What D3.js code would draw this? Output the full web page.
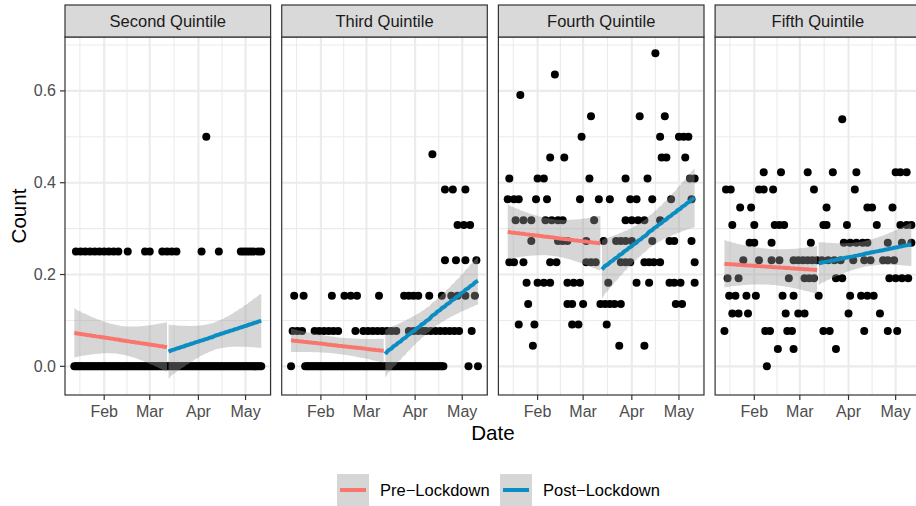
<!DOCTYPE html>
<html><head><meta charset="utf-8">
<script src="https://cdn.jsdelivr.net/npm/d3@7/dist/d3.min.js"></script>
<style>
body{margin:0;background:#fff}
svg{display:block;font-family:"Liberation Sans",Arial,Helvetica,sans-serif}
</style>
</head><body>
<svg id="chart" width="916" height="506"></svg>
<script>
// ---------------- data ----------------
const panelNames = ["Second Quintile", "Third Quintile", "Fourth Quintile", "Fifth Quintile"];
const periodNames = ["Pre\u2212Lockdown", "Post\u2212Lockdown"];
const periodColors = ["#F8766D", "#0A8DC3"];
const firstDate = "2020-01-13";          // day offset 0
const preDays = [0, 59];                  // day offsets of the pre-lockdown period
const postDays = [60, 119];               // day offsets of the post-lockdown period
const xTickDates = ["2020-02-01", "2020-03-01", "2020-04-01", "2020-05-01"];
const xTickLabels = ["Feb", "Mar", "Apr", "May"];
const yTicks = [0, 0.2, 0.4, 0.6];
const yTickLabels = ["0.0", "0.2", "0.4", "0.6"];

// each entry: [count value, day offsets with that value]
const secondQuintile = [
  [0.5, [84]],
  [0.25, [1,4,7,10,13,16,19,22,25,28,34,45,48,56,59,62,65,81,92,106,108,110,112,114,117,119]],
  [0, [0,1,2,3,4,5,6,7,8,9,10,11,12,13,14,15,16,17,18,19,20,21,22,23,24,25,26,27,28,29,30,31,32,33,34,35,36,37,38,39,40,41,42,43,44,45,46,47,48,49,50,51,52,53,54,55,56,57,58,59,60,61,62,63,64,65,66,67,68,69,70,71,72,73,74,75,76,77,78,79,80,81,82,83,84,85,86,87,88,89,90,91,92,93,94,95,96,97,98,99,100,101,102,103,104,105,106,107,108,109,110,111,112,113,114,115,116,117,118,119]]
];
const thirdQuintile = [
  [0.462, [90]],
  [0.385, [98,103,111]],
  [0.308, [106,110,114]],
  [0.231, [98,105,111,118]],
  [0.154, [2,8,26,34,38,42,56,72,75,78,81,88,96,102,106,111,117]],
  [0.077, [1,4,7,15,18,21,24,27,30,41,46,49,52,55,58,61,64,67,75,78,81,84,86,89,92,95,98,101,104,107,115]],
  [0, [0,9,10,11,12,13,14,15,16,17,18,19,20,21,22,23,24,25,26,27,28,29,30,31,32,33,34,35,36,37,38,39,40,41,42,43,44,45,46,47,48,49,50,51,52,53,54,55,56,57,58,59,60,61,62,63,64,65,66,67,68,69,70,71,72,73,74,75,76,77,78,79,80,81,82,83,84,85,86,87,88,89,90,91,92,93,94,95,96,97,113,119]]
];
const fourthQuintile = [
  [0.682, [94]],
  [0.636, [30]],
  [0.591, [8]],
  [0.545, [53,84,100]],
  [0.5, [47,97,109,112,115]],
  [0.455, [27,36,98,101,113]],
  [0.409, [1,19,23,52,75,89,116,119]],
  [0.364, [0,4,7,18,25,46,58,65,78,82,92,104,117]],
  [0.318, [5,10,15,24,28,32,35,55,75,79,83,87,97]],
  [0.273, [15,32,35,38,50,61,69,72,75,79,92,103,106,117]],
  [0.227, [1,4,10,27,31,50,53,56,72,75,78,87,90,93,97,119]],
  [0.182, [12,19,23,27,38,42,46,64,82,90,103,106,110,119]],
  [0.136, [13,38,41,48,59,62,65,68,72,107,111]],
  [0.091, [7,17,41,45,63]],
  [0.045, [16,71,87]]
];
const fifthQuintile = [
  [0.538, [75]],
  [0.423, [25,36,53,69,84,109,112,116]],
  [0.385, [1,4,22,25,31,57,83]],
  [0.346, [10,17,65,91,94,107]],
  [0.308, [5,19,32,35,38,63,65,78,97,112,116,119]],
  [0.269, [16,19,30,55,76,80,84,88,91,104,113,119]],
  [0.231, [12,22,30,35,44,47,50,53,56,59,62,66,70,74,82,89,93,101,104,108]],
  [0.192, [2,9,41,51,54,57,71,75,105,109,113,117]],
  [0.154, [3,7,14,20,37,44,60,80,87,91,95]],
  [0.115, [5,9,15,39,47,51,79,99]],
  [0.077, [0,26,29,40,43,63,67,89,104,110]],
  [0.038, [34,44,71]],
  [0, [27]]
];
const panelData = [secondQuintile, thirdQuintile, fourthQuintile, fifthQuintile];

// linear fits (geom_smooth, method = "lm"), one entry per panel
const preFitStart  = [0.073, 0.057, 0.293, 0.2235];
const preFitEnd    = [0.042, 0.034, 0.268, 0.210];
const preCiEnd     = [0.054, 0.026, 0.060, 0.052];   // CI half-width at the ends
const preCiMid     = [0.031, 0.018, 0.040, 0.039];   // CI half-width at the middle
const postFitStart = [0.032, 0.027, 0.211, 0.224];
const postFitEnd   = [0.099, 0.1865, 0.367, 0.2655];
const postCiEnd    = [0.059, 0.052, 0.064, 0.047];
const postCiMid    = [0.030, 0.028, 0.035, 0.028];

// ---------------- layout ----------------
const svg = d3.select("#chart");
const plotTop = 37, plotBottom = 395, stripTop = 5;
const panelLeft = 65, panelStep = 216.7, panelW = 205.6;
const fontTick = 16, fontStrip = 16.5, fontTitle = 20.6;

const parse = d3.utcParse("%Y-%m-%d");
const day0 = parse(firstDate);
const toDate = d => d3.utcDay.offset(day0, d);

// segments (pre/post) with ribbon polygons
function makeSegment(pi, period) {
  const days = period === 0 ? preDays : postDays;
  const s = period === 0 ? preFitStart[pi] : postFitStart[pi];
  const e = period === 0 ? preFitEnd[pi] : postFitEnd[pi];
  const he = period === 0 ? preCiEnd[pi] : postCiEnd[pi];
  const hm = period === 0 ? preCiMid[pi] : postCiMid[pi];
  const mid = (days[0] + days[1]) / 2, half = (days[1] - days[0]) / 2;
  const pts = d3.range(0, 41).map(i => {
    const t = -1 + i / 20;
    const fit = s + (e - s) * (t + 1) / 2;
    const hw = Math.sqrt(hm * hm + (he * he - hm * hm) * t * t);
    return {date: toDate(mid + t * half), fit, lo: fit - hw, hi: fit + hw};
  });
  return {period, pts};
}
const segments = panelData.map((_, pi) => [makeSegment(pi, 0), makeSegment(pi, 1)]);

// flatten points
const points = panelData.map(levels => levels.flatMap(([v, days]) => days.map(d => ({date: toDate(d), v}))));

// scales
const allDays = panelData.flatMap(l => l.flatMap(([, days]) => days));
const dMin = toDate(d3.min(allDays)), dMax = toDate(d3.max(allDays));
const xPad = (dMax - dMin) * 0.05;
const x = d3.scaleUtc().domain([new Date(+dMin - xPad), new Date(+dMax + xPad)]).range([0, panelW]);

const allY = points.flatMap(p => p.map(d => d.v))
  .concat(segments.flat().flatMap(s => s.pts.flatMap(p => [p.lo, p.hi])));
const yMin = d3.min(allY), yMax = d3.max(allY);
const yPad = (yMax - yMin) * 0.05;
const y = d3.scaleLinear().domain([yMin - yPad, yMax + yPad]).range([plotBottom, plotTop]);

const xMajor = xTickDates.map(parse);
const monthBounds = d3.utcMonth.range(d3.utcMonth.floor(x.domain()[0]), d3.utcMonth.offset(d3.utcMonth.ceil(x.domain()[1]), 1));
const xMinor = d3.pairs(monthBounds).map(([a, b]) => new Date((+a + +b) / 2))
  .filter(d => d >= x.domain()[0] && d <= x.domain()[1]);
const yMinor = d3.pairs([-0.2].concat(yTicks, [0.8])).map(([a, b]) => (a + b) / 2)
  .filter(v => v >= y.domain()[0] && v <= y.domain()[1]);

// ---------------- draw panels ----------------
panelNames.forEach((name, pi) => {
  const g = svg.append("g").attr("transform", `translate(${panelLeft + pi * panelStep},0)`);
  g.append("rect").attr("x", 0).attr("y", plotTop).attr("width", panelW).attr("height", plotBottom - plotTop).attr("fill", "#fff");

  // grid
  g.selectAll(".ymin").data(yMinor).join("line")
    .attr("x1", 0).attr("x2", panelW).attr("y1", d => y(d)).attr("y2", d => y(d))
    .attr("stroke", "#EBEBEB").attr("stroke-width", 1.1);
  g.selectAll(".xmin").data(xMinor).join("line")
    .attr("x1", d => x(d)).attr("x2", d => x(d)).attr("y1", plotTop).attr("y2", plotBottom)
    .attr("stroke", "#EBEBEB").attr("stroke-width", 1.1);
  g.selectAll(".ymaj").data(yTicks).join("line")
    .attr("x1", 0).attr("x2", panelW).attr("y1", d => y(d)).attr("y2", d => y(d))
    .attr("stroke", "#EBEBEB").attr("stroke-width", 2.1);
  g.selectAll(".xmaj").data(xMajor).join("line")
    .attr("x1", d => x(d)).attr("x2", d => x(d)).attr("y1", plotTop).attr("y2", plotBottom)
    .attr("stroke", "#EBEBEB").attr("stroke-width", 2.1);

  // points
  g.append("g").selectAll("circle").data(points[pi]).join("circle")
    .attr("cx", d => x(d.date)).attr("cy", d => y(d.v)).attr("r", 4).attr("fill", "#000");

  // ribbons
  const area = d3.area().x(d => x(d.date)).y0(d => y(d.lo)).y1(d => y(d.hi));
  g.append("g").selectAll("path").data(segments[pi]).join("path")
    .attr("d", s => area(s.pts)).attr("fill", "#999999").attr("fill-opacity", 0.4);

  // fit lines
  const line = d3.line().x(d => x(d.date)).y(d => y(d.fit));
  g.append("g").selectAll("path").data(segments[pi]).join("path")
    .attr("d", s => line(s.pts)).attr("fill", "none")
    .attr("stroke", s => periodColors[s.period]).attr("stroke-width", 4);

  // border
  g.append("rect").attr("x", 0).attr("y", plotTop).attr("width", panelW).attr("height", plotBottom - plotTop)
    .attr("fill", "none").attr("stroke", "#333333").attr("stroke-width", 1.2);

  // strip
  g.append("rect").attr("x", 0).attr("y", stripTop).attr("width", panelW).attr("height", plotTop - stripTop)
    .attr("fill", "#D9D9D9").attr("stroke", "#333333").attr("stroke-width", 1.2);
  g.append("text").attr("x", panelW / 2).attr("y", (stripTop + plotTop) / 2)
    .attr("text-anchor", "middle").attr("dominant-baseline", "central")
    .attr("font-size", fontStrip).attr("fill", "#1A1A1A").text(name);

  // x axis
  g.selectAll(".xt").data(xMajor).join("line")
    .attr("x1", d => x(d)).attr("x2", d => x(d)).attr("y1", plotBottom).attr("y2", plotBottom + 5)
    .attr("stroke", "#333333").attr("stroke-width", 1.2);
  g.selectAll(".xl").data(xMajor).join("text")
    .attr("x", d => x(d)).attr("y", plotBottom + 16)
    .attr("text-anchor", "middle").attr("dominant-baseline", "central")
    .attr("font-size", fontTick).attr("fill", "#4D4D4D")
    .text((d, i) => xTickLabels[i]);

  if (pi === 0) {
    g.selectAll(".yt").data(yTicks).join("line")
      .attr("x1", -5).attr("x2", 0).attr("y1", d => y(d)).attr("y2", d => y(d))
      .attr("stroke", "#333333").attr("stroke-width", 1.2);
    g.selectAll(".yl").data(yTicks).join("text")
      .attr("x", -9).attr("y", d => y(d))
      .attr("text-anchor", "end").attr("dominant-baseline", "central")
      .attr("font-size", fontTick).attr("fill", "#4D4D4D")
      .text((d, i) => yTickLabels[i]);
  }
});

// axis titles
svg.append("text").attr("transform", `translate(18,${(plotTop + plotBottom) / 2}) rotate(-90)`)
  .attr("text-anchor", "middle").attr("dominant-baseline", "central")
  .attr("font-size", fontTitle).attr("fill", "#000").text("Count");
svg.append("text").attr("x", 493).attr("y", 432)
  .attr("text-anchor", "middle").attr("dominant-baseline", "central")
  .attr("font-size", fontTitle).attr("fill", "#000").text("Date");

// legend
const legendX = [337, 500], legendY = 474, keySize = 32;
periodNames.forEach((nm, i) => {
  const lg = svg.append("g").attr("transform", `translate(${legendX[i]},${legendY})`);
  lg.append("rect").attr("width", keySize).attr("height", keySize).attr("fill", "#fff");
  lg.append("rect").attr("width", keySize).attr("height", keySize).attr("fill", "#999999").attr("fill-opacity", 0.4);
  lg.append("line").attr("x1", 3).attr("x2", keySize - 3).attr("y1", keySize / 2).attr("y2", keySize / 2)
    .attr("stroke", periodColors[i]).attr("stroke-width", 4);
  lg.append("text").attr("x", keySize + 11).attr("y", keySize / 2)
    .attr("dominant-baseline", "central").attr("font-size", fontStrip).attr("fill", "#000").text(nm);
});
</script>
</body></html>
